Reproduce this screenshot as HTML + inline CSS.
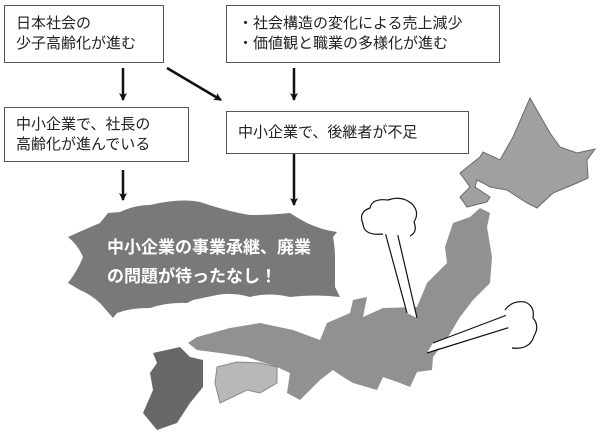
<!DOCTYPE html>
<html><head><meta charset="utf-8"><style>
html,body{margin:0;padding:0;background:#fff;}
body{width:600px;height:442px;position:relative;overflow:hidden;font-family:"Liberation Sans","Noto Sans CJK JP",sans-serif;}
.b{position:absolute;border:1.3px solid #555;background:#fff;box-sizing:border-box;font-size:15px;line-height:20px;color:#222;padding:0 0 0 11px;}
.t{position:absolute;color:#fff;font-size:17px;font-weight:bold;line-height:29px;}
</style></head><body>
<svg width="600" height="442" style="position:absolute;left:0;top:0">
<defs><marker id="a" markerWidth="8" markerHeight="8" refX="7" refY="4" orient="auto" markerUnits="userSpaceOnUse"><path d="M0,0 L8,4 L0,8 L2,4z" fill="#111"/></marker></defs>
<g stroke="#111" stroke-width="2.5" fill="none">
<line x1="123" y1="68" x2="123" y2="100" marker-end="url(#a)"/>
<line x1="294" y1="68" x2="294" y2="100" marker-end="url(#a)"/>
<line x1="167" y1="68" x2="221" y2="100" marker-end="url(#a)"/>
<line x1="123" y1="170" x2="123" y2="200" marker-end="url(#a)"/>
<line x1="294" y1="152" x2="294" y2="205" marker-end="url(#a)"/>
</g>
<path d="M68,237 Q88,228 100,223 L108,213 L120,212 Q135,205 150,205 Q180,198 200,202 Q230,212 250,215 Q272,215 290,213 L298,218 L307,223 Q322,230 337,232 L333,237 Q335,248 335,257 L335,287 L340,297 Q315,294 290,297 Q268,292 250,297 Q232,292 217,295 L193,300 L187,303 Q168,302 150,308 Q130,308 117,313 L113,318 L100,303 Q90,294 80,290 L68,283 Q78,270 83,257 Q78,245 68,237 Z" fill="#79797b"/>
<path d="M530,98 L550,133 L560,147 L577,153 L595,149 L587,160 L588,178 L577,183 L553,193 L537,208 L527,203 L507,190 L490,187 L483,183 L477,180 L475,187 L490,197 L487,202 L467,207 L460,197 L470,187 L460,173 L480,157 L483,152 L500,160 L513,137 Z" fill="#a0a0a2" stroke="#6a6a6a" stroke-width="1"/>
<path d="M480,208 L490,213 L487,227 L492,257 L490,283 L473,300 L460,317 L448,337 L433,357 L432,370 L417,372 L410,387 L400,383 L383,377 L377,390 L353,383 L340,375 L333,370 L320,380 L300,400 L287,393 L290,373 L277,367 L247,357 L220,353 L197,350 L188,343 L197,337 L230,328 L260,323 L293,330 L320,340 L327,323 L350,313 L353,300 L367,297 L363,317 L383,308 L417,307 L427,283 L447,263 L445,247 L453,223 L470,217 Z" fill="#909193"/>
<path d="M153,353 L180,347 L190,357 L203,360 L203,387 L190,403 L177,423 L157,430 L143,413 L153,390 L150,373 L157,363 Z" fill="#68686a"/>
<path d="M217,367 L237,362 L260,363 L277,367 L277,383 L260,393 L247,390 L220,403 L215,383 Z" fill="#b8b8ba" stroke="#888" stroke-width="1"/>
<g stroke="#111" stroke-width="1.2" fill="#fff">
<path d="M385,232 L396,223 L417,318 L407,313 Z" stroke="none"/>
<path d="M385,232 L407,313 M395,223 L417,318" fill="none"/>
<path d="M383,234 Q364,236 363,224 Q358,212 370,208 Q372,198 388,200 Q402,195 412,204 Q420,212 414,222 Q418,232 410,236" fill="#fff"/>
<path d="M427,353 L433,343 L507,315 L517,317 Z" stroke="none"/>
<path d="M427,353 L517,325 M433,343 L507,315" fill="none"/>
<path d="M505,310 Q512,300 525,302 Q535,306 533,318 Q540,326 534,336 Q530,350 512,348" fill="#fff"/>
</g>
</svg>
<div class="b" style="left:4px;top:5px;width:160px;height:58px;padding-top:8px">日本社会の<br>少子高齢化が進む</div>
<div class="b" style="left:226px;top:5px;width:274px;height:58px;padding-top:8px">・社会構造の変化による売上減少<br>・価値観と職業の多様化が進む</div>
<div class="b" style="left:4px;top:107px;width:185px;height:55px;padding-top:7px">中小企業で、社長の<br>高齢化が進んでいる</div>
<div class="b" style="left:226px;top:111px;width:243px;height:43px;padding-top:11px">中小企業で、後継者が不足</div>
<div class="t" style="left:107px;top:233px">中小企業の事業承継、廃業<br>の問題が待ったなし！</div>
</body></html>
